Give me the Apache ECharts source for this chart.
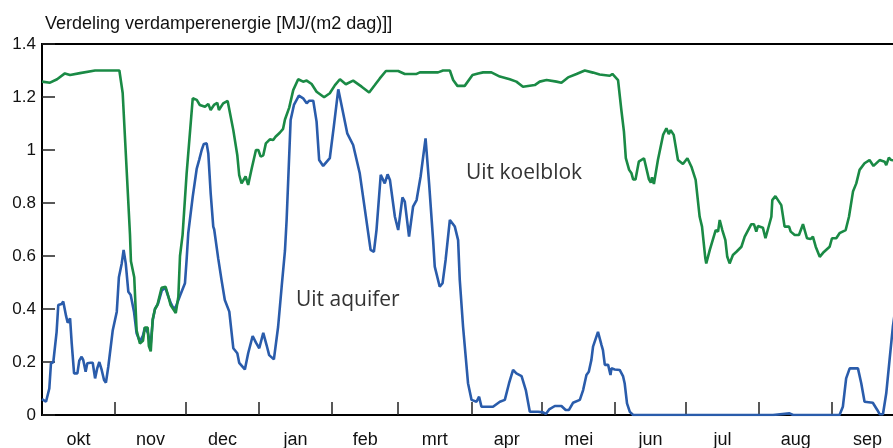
<!DOCTYPE html>
<html>
<head>
<meta charset="utf-8">
<script src="https://cdn.jsdelivr.net/npm/echarts@6/dist/echarts.min.js"></script>
<style>
html,body{margin:0;padding:0;background:#fff;}
#chart{width:893px;height:448px;}
</style>
</head>
<body>
<div id="chart"></div>
<script>
// dagen vanaf 1 oktober
var koelDays = [0,3.4,6.4,9.7,11.9,16.1,22.5,32.8,34.2,37.3,37.7,39.1,40.1,41.5,42.8,43.6,44.8,45.3,46.1,46.9,47.9,48.9,50.7,52.4,53.5,54.5,55.6,56.7,57.8,58.5,59.6,61.3,63.9,65.6,66.9,69.1,70.5,71.5,72.9,74.3,75.0,76.8,78.7,81.1,82.8,83.6,84.6,86.3,87.4,88.9,90.7,91.7,92.7,93.8,94.9,96.6,98.0,99.0,100.8,102.2,103.0,104.8,106.5,108.6,110.7,112.2,114.3,116.4,119.6,122.0,124.2,126.3,128.8,131.9,135.5,138.7,141.1,143.2,145.8,151.0,153.8,158.8,160.2,167.9,170.0,172.9,174.3,176.1,179.2,182.5,184.9,187.0,190.5,194.1,198.3,201.1,203.9,208.9,211.0,213.9,218.1,220.2,223.0,226.6,230.1,233.6,236.4,240.7,241.8,244.2,245.6,246.7,247.5,248.9,249.9,250.6,251.6,253.0,255.2,257.3,258.1,258.6,259.4,261.1,263.3,264.7,265.7,266.5,267.8,269.6,271.7,273.6,275.3,277.1,278.8,279.8,281.2,281.6,283.1,285.6,286.6,287.3,288.4,289.7,290.5,291.5,292.9,294.4,296.5,297.9,300.7,301.8,302.8,303.5,305.6,306.7,309.2,309.6,310.9,313.4,314.8,316.7,317.4,319.1,320.9,322.6,324.3,325.8,326.8,328.0,329.7,331.1,333.9,334.9,336.7,338.1,340.7,342.1,343.8,345.2,346.6,348.7,350.8,352.5,355.1,357.2,357.9,359.0,360.0,362.0];
var koelVals = [1.258,1.254,1.267,1.289,1.283,1.29,1.30,1.30,1.215,0.68,0.58,0.52,0.32,0.27,0.28,0.33,0.33,0.26,0.24,0.36,0.40,0.415,0.48,0.484,0.45,0.415,0.40,0.385,0.446,0.60,0.68,0.91,1.195,1.189,1.17,1.163,1.174,1.151,1.17,1.178,1.151,1.176,1.185,1.075,0.98,0.905,0.874,0.90,0.868,0.93,1.0,1.0,0.975,0.98,1.025,1.04,1.038,1.05,1.065,1.08,1.115,1.16,1.226,1.267,1.258,1.262,1.249,1.22,1.199,1.214,1.245,1.267,1.248,1.262,1.239,1.217,1.245,1.27,1.298,1.298,1.287,1.287,1.293,1.293,1.30,1.30,1.264,1.242,1.242,1.283,1.289,1.293,1.293,1.277,1.267,1.258,1.239,1.245,1.258,1.264,1.258,1.254,1.274,1.287,1.30,1.292,1.285,1.28,1.287,1.264,1.151,1.069,0.969,0.925,0.912,0.889,0.889,0.956,0.969,0.889,0.877,0.897,0.872,0.962,1.057,1.082,1.06,1.075,1.057,0.962,0.947,0.969,0.937,0.887,0.748,0.711,0.591,0.572,0.623,0.698,0.692,0.736,0.698,0.66,0.597,0.572,0.604,0.616,0.635,0.673,0.72,0.72,0.692,0.713,0.707,0.667,0.748,0.811,0.826,0.792,0.711,0.711,0.692,0.679,0.679,0.72,0.667,0.664,0.673,0.635,0.597,0.612,0.635,0.667,0.667,0.686,0.698,0.748,0.843,0.874,0.925,0.95,0.962,0.94,0.962,0.956,0.943,0.971,0.962,0.96];

var aquiferDays = [0,1.7,3.1,3.8,4.8,6.2,6.9,8.3,9.0,10.2,10.9,11.9,12.6,13.6,15.0,15.8,16.8,17.5,18.5,19.2,20.6,21.5,22.5,23.4,24.3,25.3,26.3,27.1,28.1,30.0,31.7,32.6,33.8,34.6,35.5,36.6,37.6,39.0,40.1,41.5,42.8,43.6,44.9,46.0,47.0,47.9,49.2,50.8,52.3,53.4,54.7,55.9,56.8,58.5,60.6,61.3,62.0,63.9,65.6,66.6,67.7,68.6,69.8,70.5,71.5,72.6,73.0,74.7,76.1,77.5,79.4,81.1,82.8,83.6,86.0,87.4,89.3,90.7,92.1,93.8,95.2,96.3,98.3,100.1,101.6,103.0,103.7,105.4,106.8,108.9,110.7,112.2,113.3,115.0,116.4,117.5,119.2,122.0,123.7,125.6,127.7,129.4,131.9,134.7,136.9,139.3,140.7,141.8,143.6,145.3,146.5,147.5,149.6,151.0,152.8,153.8,155.6,157.3,158.8,160.5,162.6,164.1,165.8,166.5,168.6,169.8,171.1,172.9,175.0,176.4,177.1,178.5,180.6,182.1,184.2,185.3,186.3,191.2,194.1,196.2,198.0,199.7,201.1,203.3,205.1,206.8,210.3,212.4,213.6,215.0,217.4,220.2,222.0,223.4,225.1,228.0,229.4,230.8,231.8,232.9,233.6,235.7,237.2,237.8,238.6,240.0,241.0,241.4,242.8,244.9,246.3,247.0,248.0,249.2,250.6,309.9,310.6,316.9,318.4,338.1,339.5,340.9,342.4,345.9,347.3,348.7,352.2,354.1,355.1,356.5,357.9,359.3,360.7,362.5];
var aquiferVals = [0.06,0.05,0.10,0.195,0.20,0.314,0.415,0.419,0.428,0.374,0.348,0.365,0.27,0.157,0.157,0.205,0.22,0.207,0.163,0.195,0.197,0.197,0.138,0.176,0.20,0.17,0.132,0.122,0.182,0.32,0.39,0.52,0.572,0.623,0.572,0.465,0.453,0.39,0.308,0.277,0.30,0.33,0.31,0.26,0.36,0.40,0.42,0.47,0.48,0.45,0.42,0.40,0.41,0.45,0.497,0.585,0.686,0.824,0.93,0.962,1.0,1.023,1.025,0.987,0.837,0.711,0.70,0.591,0.51,0.434,0.39,0.252,0.233,0.197,0.172,0.233,0.298,0.273,0.252,0.31,0.264,0.226,0.21,0.333,0.484,0.62,0.736,1.113,1.17,1.205,1.195,1.176,1.186,1.186,1.107,0.962,0.94,0.969,1.088,1.229,1.138,1.063,1.019,0.912,0.774,0.623,0.616,0.698,0.906,0.874,0.908,0.887,0.748,0.698,0.821,0.805,0.673,0.786,0.811,0.90,1.044,0.874,0.66,0.56,0.484,0.497,0.585,0.736,0.711,0.66,0.51,0.333,0.12,0.057,0.05,0.069,0.031,0.031,0.05,0.057,0.12,0.17,0.157,0.147,0.094,0.012,0.012,0.01,0.004,0.021,0.034,0.034,0.019,0.019,0.046,0.057,0.094,0.151,0.163,0.208,0.258,0.314,0.264,0.245,0.189,0.189,0.151,0.176,0.172,0.17,0.147,0.12,0.044,0.012,0,0,0.006,0.006,0,0,0.031,0.138,0.176,0.176,0.12,0.05,0.046,0.019,0.003,0.003,0.082,0.208,0.333,0.45];

var monthNames = ['okt','nov','dec','jan','feb','mrt','apr','mei','jun','jul','aug','sep'];
var monthStarts = [0,31,61,92,123,151,182,212,243,273,304,335,365];
var yTicks = [0,0.2,0.4,0.6,0.8,1,1.2,1.4];

function zip(days, vals) {
	var out = [];
	for (var i = 0; i < days.length; i++) out.push([days[i], vals[i]]);
	return out;
}

var monthMids = [];
for (var m = 0; m < 12; m++) monthMids.push((monthStarts[m] + monthStarts[m + 1]) / 2);

var myChart = echarts.init(document.getElementById('chart'));
myChart.setOption({
	animation: false,
	backgroundColor: '#fff',
	title: {
		text: 'Verdeling verdamperenergie [MJ/(m2 dag)]]',
		left: 40, top: 10,
		textStyle: {fontFamily: 'Liberation Sans', fontSize: 18, fontWeight: 'normal', color: '#111'}
	},
	grid: {
		left: 42, right: -10, top: 44, bottom: 33,
		show: true, borderColor: '#000', borderWidth: 2,
		outerBoundsMode: 'none'
	},
	xAxis: {
		type: 'value', min: 0, max: 365,
		axisLine: {lineStyle: {color: '#000', width: 2}},
		axisTick: {inside: true, length: 13, customValues: monthStarts.slice(1, 12), lineStyle: {color: '#222', width: 1.5}},
		axisLabel: {
			customValues: monthMids, margin: 16,
			fontFamily: 'Liberation Sans', fontSize: 18, color: '#111',
			formatter: function (v) {
				for (var i = 0; i < 12; i++) if (Math.abs(monthMids[i] - v) < 0.01) return monthNames[i];
				return '';
			}
		},
		splitLine: {show: false}
	},
	yAxis: {
		type: 'value', min: 0, max: 1.4, interval: 0.2,
		axisLine: {show: true, lineStyle: {color: '#000', width: 2}},
		axisTick: {inside: true, length: 13, lineStyle: {color: '#222', width: 1.5}},
		axisLabel: {
			margin: 6, fontFamily: 'Liberation Sans', fontSize: 17, color: '#111',
			formatter: function (v) {
				for (var i = 0; i < yTicks.length; i++) if (Math.abs(yTicks[i] - v) < 1e-6) return String(yTicks[i]);
				return '';
			}
		},
		splitLine: {show: false}
	},
	graphic: [
		{type: 'text', x: 466, y: 173, style: {text: 'Uit koelblok', font: '21px "Open Sans"', fill: '#333', verticalAlign: 'middle'}},
		{type: 'text', x: 296, y: 300, style: {text: 'Uit aquifer', font: '21px "Open Sans"', fill: '#333', verticalAlign: 'middle'}}
	],
	series: [
		{
			name: 'Uit aquifer', type: 'line', showSymbol: false,
			data: zip(aquiferDays, aquiferVals),
			lineStyle: {color: '#2a5cab', width: 2.6},
			itemStyle: {color: '#2a5cab'}
		},
		{
			name: 'Uit koelblok', type: 'line', showSymbol: false,
			data: zip(koelDays, koelVals),
			lineStyle: {color: '#1a8a45', width: 2.6},
			itemStyle: {color: '#1a8a45'}
		}
	]
});
</script>
</body>
</html>
